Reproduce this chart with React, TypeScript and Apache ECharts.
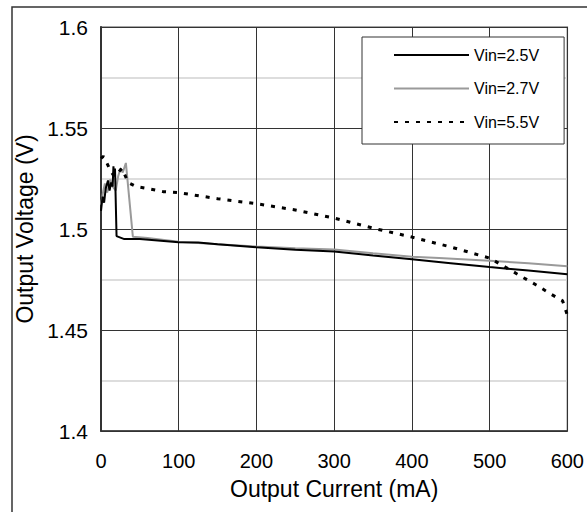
import React, { useEffect, useRef } from 'react';
import * as echarts from 'echarts';

const seriesNames = ['Vin=2.5V', 'Vin=2.7V', 'Vin=5.5V'];

const current25 = [0, 2, 4, 6, 9, 11, 13, 15, 16, 17, 18, 20, 30, 50, 100, 125, 150, 200, 250, 300, 350, 400, 450, 500, 550, 600];
const voltage25 = [1.509, 1.516, 1.513, 1.52, 1.524, 1.519, 1.523, 1.521, 1.531, 1.526, 1.53, 1.4965, 1.495, 1.495, 1.4935, 1.4933, 1.4925, 1.491, 1.4897, 1.4889, 1.4869, 1.485, 1.4831, 1.4812, 1.4794, 1.4776];

const current27 = [0, 3, 5, 8, 10, 12, 15, 19, 22, 25, 28, 32, 41, 60, 100, 150, 200, 250, 300, 350, 400, 435, 500, 550, 600];
const voltage27 = [1.512, 1.519, 1.5225, 1.518, 1.522, 1.5245, 1.521, 1.519, 1.526, 1.53, 1.528, 1.5327, 1.4962, 1.4955, 1.4937, 1.4925, 1.4913, 1.4905, 1.4898, 1.488, 1.4863, 1.4856, 1.4843, 1.483, 1.4815];

const current55 = [0, 3, 6, 12, 17, 22, 27, 35, 45, 60, 80, 100, 150, 200, 250, 300, 350, 400, 450, 500, 520, 540, 560, 580, 594, 600];
const voltage55 = [1.535, 1.536, 1.534, 1.529, 1.526, 1.528, 1.53, 1.523, 1.521, 1.52, 1.5185, 1.518, 1.515, 1.5125, 1.5094, 1.5054, 1.5004, 1.496, 1.4911, 1.4856, 1.4812, 1.4767, 1.4723, 1.4675, 1.4644, 1.4574];

const xAxisTitle = 'Output Current (mA)';
const yAxisTitle = 'Output Voltage (V)';

const pairs = (xs: number[], ys: number[]) => xs.map((x, i) => [x, ys[i]]);

const FONT = '"Liberation Sans", Arial, sans-serif';

export default function App() {
  const ref = useRef<HTMLDivElement>(null);
  useEffect(() => {
    if (!ref.current) return;
    const chart = echarts.init(ref.current, undefined, { renderer: 'svg' });
    chart.setOption({
      animation: false,
      backgroundColor: '#ffffff',
      textStyle: { fontFamily: FONT },
      graphic: [
        {
          type: 'rect',
          silent: true,
          z: -10,
          shape: { x: 12, y: 7, width: 700, height: 700 },
          style: { fill: 'none', stroke: '#333333', lineWidth: 1.5 },
        },
      ],
      grid: {
        left: 101,
        top: 27,
        right: 19,
        bottom: 81,
        show: true,
        borderColor: '#8a8a8a',
        borderWidth: 1.5,
        backgroundColor: 'transparent',
      },
      legend: {
        orient: 'vertical',
        left: 362,
        top: 37,
        padding: [10, 25, 14, 31],
        itemWidth: 75,
        itemHeight: 14,
        itemGap: 17.5,
        backgroundColor: '#ffffff',
        borderColor: '#333333',
        borderWidth: 1,
        itemStyle: { opacity: 0 },
        textStyle: { fontSize: 16, color: '#000', fontFamily: FONT, lineHeight: 16 },
        data: seriesNames,
      },
      xAxis: {
        type: 'value',
        min: 0,
        max: 600,
        interval: 100,
        name: xAxisTitle,
        nameLocation: 'middle',
        nameGap: 46,
        nameTextStyle: { fontSize: 23, color: '#000', fontFamily: FONT },
        axisLine: { show: true, lineStyle: { color: '#333333', width: 1.5 } },
        axisTick: { show: false },
        axisLabel: { fontSize: 20, color: '#000', margin: 20, fontFamily: FONT },
        splitLine: { show: true, lineStyle: { color: '#333333', width: 1 } },
      },
      yAxis: {
        type: 'value',
        min: 1.4,
        max: 1.6,
        interval: 0.05,
        name: yAxisTitle,
        nameLocation: 'middle',
        nameGap: 57,
        nameTextStyle: { fontSize: 23, color: '#000', fontFamily: FONT },
        axisLine: { show: true, lineStyle: { color: '#333333', width: 2 } },
        axisTick: { show: false },
        axisLabel: { fontSize: 21, color: '#000', margin: 13, fontFamily: FONT },
        splitLine: { show: true, lineStyle: { color: '#333333', width: 1 } },
        minorTick: { show: false, splitNumber: 2 },
        minorSplitLine: { show: true, lineStyle: { color: '#d2d2d2', width: 1.5 } },
      },
      series: [
        {
          name: seriesNames[0],
          type: 'line',
          symbol: 'none',
          data: pairs(current25, voltage25),
          lineStyle: { color: '#000000', width: 2 },
          itemStyle: { color: '#000000' },
          z: 4,
        },
        {
          name: seriesNames[1],
          type: 'line',
          symbol: 'none',
          data: pairs(current27, voltage27),
          lineStyle: { color: '#9a9a9a', width: 2 },
          itemStyle: { color: '#9a9a9a' },
          z: 3,
        },
        {
          name: seriesNames[2],
          type: 'line',
          symbol: 'none',
          data: pairs(current55, voltage55),
          lineStyle: { color: '#000000', width: 3, type: [4, 7] },
          itemStyle: { color: '#000000' },
          z: 5,
        },
      ],
    });
    return () => chart.dispose();
  }, []);
  return (
    <div
      ref={ref}
      style={{ position: 'fixed', left: 0, top: 0, width: 587, height: 512 }}
    />
  );
}
